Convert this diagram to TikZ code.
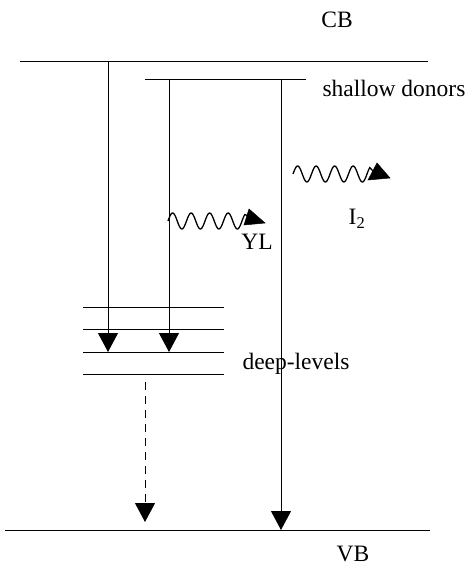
\documentclass[tikz,border=0pt]{standalone}
\usepackage{fontspec}
\setmainfont{Liberation Serif}
\usetikzlibrary{arrows.meta}
\begin{document}
\begin{tikzpicture}[x=1pt,y=-1pt,line width=1pt,
  lvl/.style={draw=black},
  trans/.style={-{Triangle[length=19pt,width=20pt]}},
  dtrans/.style={-{Triangle[length=19pt,width=20pt]},dash pattern=on 8pt off 6pt},
  wave/.style={line width=1.3pt},
  lbl/.style={font=\fontsize{23.5}{28}\selectfont,inner sep=0pt},
  tip/.style={fill=black,draw=black,line width=0.5pt}]
\useasboundingbox (0,0) rectangle (470,567);
% levels
\coordinate (cbL) at (20,62);  \coordinate (cbR) at (428,62);
\coordinate (sdL) at (145,80); \coordinate (sdR) at (306,80);
\coordinate (vbL) at (5,530);  \coordinate (vbR) at (430,530);
\draw[lvl] (cbL) -- (cbR);
\draw[lvl] (sdL) -- (sdR);
\draw[lvl] (vbL) -- (vbR);
\foreach \y/\n in {307/d1,329/d2,352/d3,374/d4}{
  \coordinate (\n L) at (83,\y); \coordinate (\n R) at (224,\y);
  \draw[lvl] (\n L) -- (\n R);
}
% transitions
\coordinate (a1s) at (108,62);  \coordinate (a1e) at (108,352);
\coordinate (a2s) at (169,80);  \coordinate (a2e) at (169,352);
\coordinate (a3s) at (281,80);  \coordinate (a3e) at (281,530);
\coordinate (a4s) at (145,382); \coordinate (a4e) at (145,522);
\draw[trans] (a1s) -- (a1e);
\draw[trans] (a2s) -- (a2e);
\draw[trans] (a3s) -- (a3e);
\draw[dtrans] (a4s) -- (a4e);
% photons
\draw[wave] plot[domain=0:4.15, samples=90] ({168+18.5*\x},{221-8*sin(360*\x)}) -- (249,216);
\fill[tip] (265,223) -- (249,209) -- (244,225) -- cycle;
\draw[wave] plot[domain=0:4.15, samples=90] ({293+18.5*\x},{174-8*sin(360*\x)}) -- (373,171);
\fill[tip] (390,178) -- (377,163) -- (368,180) -- cycle;
% labels
\node[lbl] (cb) at (337,20) {CB};
\node[lbl,anchor=west] (sd) at (322,88) {shallow donors};
\node[lbl,anchor=west] (dl) at (242,364) {deep-levels};
\node[lbl] (yl) at (257,242) {YL};
\node[lbl] (i2) at (357,219) {I\textsubscript{2}};
\node[lbl] (vb) at (353,554) {VB};
\end{tikzpicture}
\end{document}
